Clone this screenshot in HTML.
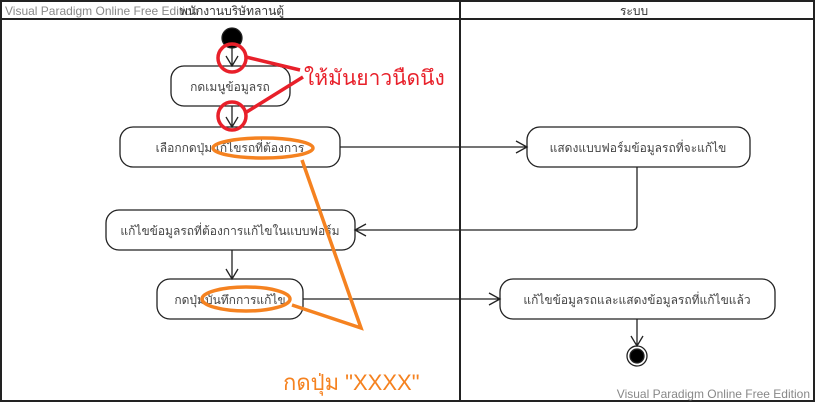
<!DOCTYPE html>
<html><head><meta charset="utf-8"><style>
body{margin:0;background:#fff;}
svg text{font-family:"Liberation Sans","DejaVu Sans",sans-serif;}
</style></head><body>
<svg width="816" height="404" xmlns="http://www.w3.org/2000/svg">
<rect x="0" y="0" width="816" height="404" fill="#fff"/>
<rect x="1" y="1" width="813" height="400" fill="none" stroke="#222" stroke-width="2"/>
<line x1="1" y1="19" x2="814" y2="19" stroke="#222" stroke-width="2"/>
<line x1="460" y1="1" x2="460" y2="401" stroke="#222" stroke-width="2"/>
<text x="5" y="15" font-size="12" fill="#888">Visual Paradigm Online Free Edition</text>
<text x="232" y="15" font-size="12" fill="#333" text-anchor="middle">พนักงานบริษัทลานตู้</text>
<text x="634" y="15" font-size="12" fill="#333" text-anchor="middle">ระบบ</text>
<text x="810" y="398" font-size="12" fill="#888" text-anchor="end">Visual Paradigm Online Free Edition</text>
<g fill="none" stroke="#222" stroke-width="1.3">
<circle cx="232" cy="38" r="10" fill="#000"/>
<rect x="171" y="66" width="119" height="40" rx="13"/>
<rect x="120" y="127" width="220" height="40" rx="13"/>
<rect x="527" y="127" width="223" height="40" rx="13"/>
<rect x="106" y="210" width="249" height="40" rx="13"/>
<rect x="157" y="279" width="146" height="40" rx="13"/>
<rect x="500" y="279" width="275" height="40" rx="13"/>
<circle cx="637" cy="356" r="10"/>
<circle cx="637" cy="356" r="7" fill="#000"/>
<path d="M232 48V66M226 56L232 66L238 56"/>
<path d="M232 106V127M226 117L232 127L238 117"/>
<path d="M340 147H527M516 141L527 147L516 153"/>
<path d="M637 167V225Q637 230 632 230H355M366 224L355 230L366 236"/>
<path d="M232 250V279M226 269L232 279L238 269"/>
<path d="M303 299H500M489 293L500 299L489 305"/>
<path d="M637 319V346M631 336L637 346L643 336"/>
</g>
<g font-size="12" fill="#444" text-anchor="middle">
<text x="230" y="91">กดเมนูข้อมูลรถ</text>
<text x="230" y="152">เลือกกดปุ่มแก้ไขรถที่ต้องการ</text>
<text x="638" y="152">แสดงแบบฟอร์มข้อมูลรถที่จะแก้ไข</text>
<text x="230" y="235">แก้ไขข้อมูลรถที่ต้องการแก้ไขในแบบฟอร์ม</text>
<text x="230" y="304">กดปุ่มบันทึกการแก้ไข</text>
<text x="637" y="304">แก้ไขข้อมูลรถและแสดงข้อมูลรถที่แก้ไขแล้ว</text>
</g>
<g fill="none" stroke="#e8202a" stroke-width="3.5">
<circle cx="232" cy="58" r="14"/>
<circle cx="232" cy="116" r="14"/>
<line x1="246" y1="57" x2="300" y2="70"/>
<line x1="245" y1="113" x2="303" y2="77"/>
</g>
<text x="304" y="85" font-size="21" fill="#e8202a">ให้มันยาวนืดนึง</text>
<g fill="none" stroke="#f58220" stroke-width="3.5">
<ellipse cx="263" cy="148" rx="50" ry="10"/>
<ellipse cx="246" cy="299" rx="44" ry="12"/>
<path d="M302 160L361 328L292 305"/>
</g>
<text x="283" y="390" font-size="22" fill="#f58220">กดปุ่ม "XXXX"</text>
</svg>
</body></html>
